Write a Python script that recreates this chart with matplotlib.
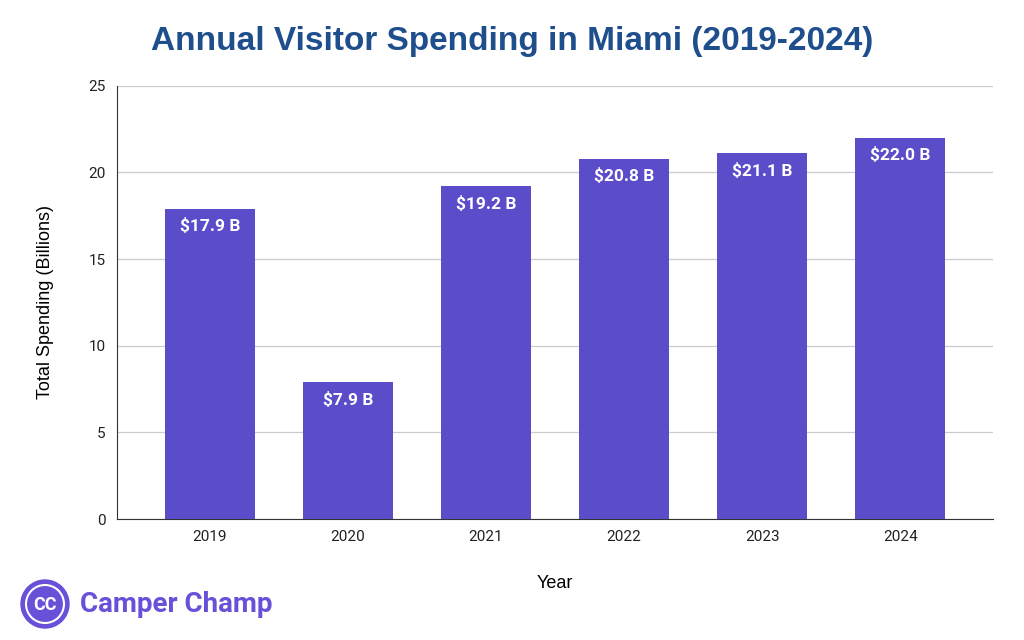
import matplotlib.pyplot as plt
from matplotlib.patches import Circle

years = ['2019', '2020', '2021', '2022', '2023', '2024']
spending = [17.9, 7.9, 19.2, 20.8, 21.1, 22.0]
labels = ['$17.9 B', '$7.9 B', '$19.2 B', '$20.8 B', '$21.1 B', '$22.0 B']

plt.rcParams['font.family'] = ['Roboto', 'DejaVu Sans']
fig = plt.figure(figsize=(10.24, 6.4), dpi=100)
ax = fig.add_axes([0.114, 0.189, 0.856, 0.677])

bars = ax.bar(years, spending, width=0.65, color='#5B4CC9', zorder=3)
for b, lab in zip(bars, labels):
    ax.text(b.get_x() + b.get_width() / 2, b.get_height() - 0.55, lab.replace('$', r'\$'),
            ha='center', va='top', color='white', fontsize=12.5, fontweight='bold', zorder=4)

ax.set_ylim(0, 25)
ax.set_xlim(-0.674, 5.674)
ax.set_yticks([0, 5, 10, 15, 20, 25])
ax.grid(axis='y', color='#cccccc', linewidth=0.9, zorder=0)
for s in ['top', 'right']:
    ax.spines[s].set_visible(False)
ax.spines['left'].set_color('#333333')
ax.spines['bottom'].set_color('#333333')
ax.tick_params(axis='both', length=0, labelsize=11, colors='#222222', pad=8)
ax.set_ylabel('Total Spending (Billions)', fontsize=13, labelpad=25, family=['Liberation Sans'])
ax.set_xlabel('Year', fontsize=13, labelpad=22, family=['Liberation Sans'])

fig.text(0.5, 0.935, 'Annual Visitor Spending in Miami (2019-2024)', ha='center', va='center',
         fontsize=24, fontweight='bold', color='#1F4E8C', family=['Liberation Sans'])

# logo
lax = fig.add_axes([0, 0, 1, 1], zorder=-1)
lax.set_xlim(0, 1024)
lax.set_ylim(640, 0)
lax.axis('off')
lax.add_patch(Circle((45, 604), 24, color='#6A4FD8'))
lax.add_patch(Circle((45, 604), 19, fill=False, edgecolor='white', linewidth=1.5))
lax.text(45, 605, 'CC', ha='center', va='center', color='white', fontsize=13, fontweight='bold')
lax.text(80, 604, 'Camper Champ', ha='left', va='center', color='#6A4FD8', fontsize=20, fontweight='bold')

fig.savefig('out.png', dpi=100)
